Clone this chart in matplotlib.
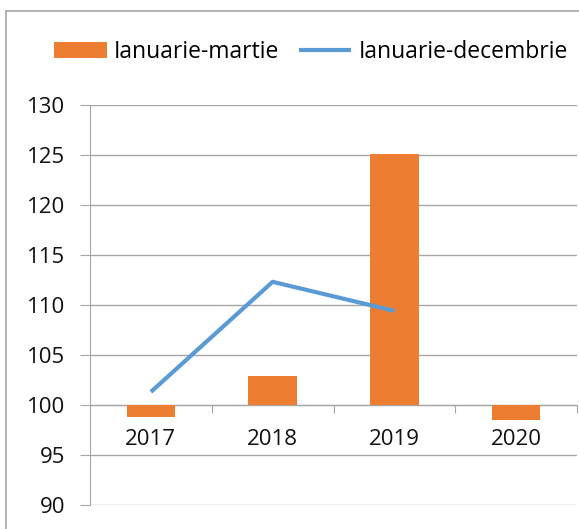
import matplotlib.pyplot as plt
from matplotlib.patches import Rectangle

plt.rcParams['font.family'] = ['Open Sans', 'DejaVu Sans']

# data
years = ["2017", "2018", "2019", "2020"]
ian_martie = [98.8, 102.9, 125.1, 98.5]
ian_decembrie = [101.3, 112.3, 109.4]

orange = "#ED7D31"
blue = "#5B9BD5"
gray = "#A6A6A6"

fig = plt.figure(figsize=(5.79, 5.29), dpi=100)
ax = fig.add_axes([90 / 579, 24 / 529, 487 / 579, 400.3 / 529])

x = list(range(len(years)))
heights = [v - 100 for v in ian_martie]
bars = ax.bar(x, heights, bottom=100, width=0.4, color=orange, label="Ianuarie-martie", zorder=3)
line, = ax.plot(x[:len(ian_decembrie)], ian_decembrie, color=blue, lw=3, label="Ianuarie-decembrie",
                solid_capstyle="butt", zorder=4)

ax.set_xlim(-0.5, 3.5)
ax.set_ylim(90, 130)
ax.set_yticks(range(90, 131, 5))
ax.grid(axis="y", color=gray, lw=1)
ax.set_axisbelow(True)

# x axis crosses at 100
ax.spines["bottom"].set_position(("data", 100))
ax.spines["bottom"].set_color(gray)
ax.spines["left"].set_color(gray)
ax.spines["top"].set_visible(False)
ax.spines["right"].set_visible(False)

ax.set_xticks([0.5, 1.5, 2.5, 3.5])
ax.set_xticklabels([])
ax.set_xticks(x, minor=True)
ax.set_xticklabels(years, minor=True)
ax.tick_params(axis="x", which="major", direction="out", length=6, color=gray)
ax.tick_params(axis="x", which="minor", length=0, pad=17, labelsize=16, labelcolor="#111111")
ax.tick_params(axis="y", direction="out", length=7, color=gray, pad=11, labelsize=16,
               labelcolor="#111111")

fig.legend([bars, line], ["Ianuarie-martie", "Ianuarie-decembrie"],
           loc="center", bbox_to_anchor=(311 / 579, 1 - 52 / 529), ncol=2, frameon=False,
           fontsize=16.5, handlelength=2.3, handleheight=0.65, handletextpad=0.3,
           columnspacing=0.85)

fig.patches.append(Rectangle((6 / 579, -0.1), 1.2, 1.1 - 10.5 / 529, transform=fig.transFigure,
                             fill=False, edgecolor=gray, lw=1.2))

fig.savefig("out.png", dpi=100)
